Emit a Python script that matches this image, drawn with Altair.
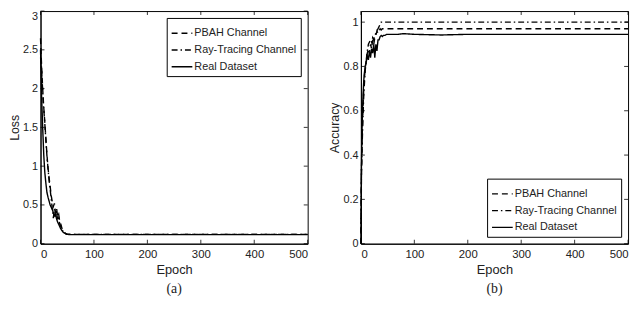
import altair as alt
import pandas as pd

epochs = [0, 1, 2, 3, 4, 5, 6, 8, 10, 12, 14, 16, 18, 20, 22, 24, 26, 28, 30, 32,
          34, 36, 38, 40, 42, 45, 48, 50, 55, 60, 70, 80, 100, 150, 200, 300, 400, 500]

series = ["PBAH Channel", "Ray-Tracing Channel", "Real Dataset"]

loss_pbah = [2.65, 2.45, 2.30, 2.15, 2.00, 1.88, 1.76, 1.57, 1.36, 1.15, 0.98, 0.85, 0.74, 0.62,
             0.54, 0.48, 0.52, 0.40, 0.46, 0.35, 0.38, 0.28, 0.25, 0.20, 0.17, 0.145, 0.128, 0.122,
             0.12, 0.12, 0.12, 0.12, 0.12, 0.12, 0.12, 0.12, 0.12, 0.12]
loss_rt = [2.40, 2.35, 2.25, 2.10, 1.98, 1.85, 1.74, 1.55, 1.33, 1.13, 0.97, 0.82, 0.70, 0.58,
           0.45, 0.33, 0.45, 0.35, 0.42, 0.30, 0.33, 0.25, 0.22, 0.19, 0.16, 0.14, 0.125, 0.12,
           0.12, 0.12, 0.12, 0.12, 0.12, 0.12, 0.12, 0.12, 0.12, 0.12]
loss_real = [2.50, 2.20, 1.90, 1.70, 1.50, 1.33, 1.15, 0.92, 0.78, 0.66, 0.60, 0.55, 0.50, 0.47,
             0.44, 0.40, 0.36, 0.38, 0.32, 0.28, 0.25, 0.22, 0.19, 0.17, 0.15, 0.135, 0.125, 0.12,
             0.118, 0.117, 0.117, 0.117, 0.117, 0.117, 0.117, 0.117, 0.117, 0.117]

acc_pbah = [0.00, 0.30, 0.45, 0.55, 0.62, 0.68, 0.73, 0.79, 0.83, 0.86, 0.88, 0.86, 0.90, 0.88,
            0.92, 0.90, 0.93, 0.94, 0.96, 0.95, 0.96, 0.97, 0.965, 0.97, 0.97, 0.97, 0.97, 0.97,
            0.97, 0.97, 0.97, 0.97, 0.97, 0.97, 0.97, 0.97, 0.97, 0.97]
acc_rt = [0.05, 0.33, 0.42, 0.50, 0.58, 0.65, 0.70, 0.78, 0.83, 0.87, 0.90, 0.91, 0.92, 0.91,
          0.93, 0.92, 0.94, 0.95, 0.96, 0.97, 0.98, 0.99, 1.00, 1.00, 1.00, 1.00, 1.00, 1.00,
          1.00, 1.00, 1.00, 1.00, 1.00, 1.00, 1.00, 1.00, 1.00, 1.00]
acc_real = [0.00, 0.35, 0.50, 0.60, 0.67, 0.72, 0.76, 0.80, 0.82, 0.85, 0.83, 0.87, 0.84, 0.88,
            0.86, 0.90, 0.84, 0.90, 0.87, 0.92, 0.92, 0.935, 0.94, 0.935, 0.94, 0.94, 0.945, 0.945,
            0.945, 0.945, 0.945, 0.948, 0.945, 0.942, 0.945, 0.945, 0.945, 0.945]

x_ticks = [0, 100, 200, 300, 400, 500]
loss_ticks = [0, 0.5, 1, 1.5, 2, 2.5, 3]
acc_ticks = [0, 0.2, 0.4, 0.6, 0.8, 1]

W, H = 271, 236
FONT = "Liberation Sans"


def long(vals_list):
    rows = []
    for name, vals in zip(series, vals_list):
        for i, (e, v) in enumerate(zip(epochs, vals)):
            rows.append({"epoch": e, "value": v, "series": name, "order": i})
    return pd.DataFrame(rows)


def panel(df, yticks, ymax, ytitle, legend_orient, label):
    xs = alt.Scale(domain=[0, 500], nice=False)
    ys = alt.Scale(domain=[0, ymax], nice=False)
    xaxis = alt.Axis(values=x_ticks, ticks=False, grid=False, labelPadding=5,
                     labelExpr="toString(datum.value)",
                     domainColor="black", labelFont=FONT, labelFontSize=11.5,
                     labelColor="#222", titleFont=FONT, titleFontSize=13,
                     titleFontWeight="normal", titleColor="#222", titlePadding=4)
    yaxis = alt.Axis(values=yticks, ticks=False, grid=False, labelPadding=3,
                     labelExpr="toString(datum.value)",
                     labelBaseline={"condition": {"test": f"datum.value >= {ymax}", "value": "top"},
                                    "value": "middle"},
                     domainColor="black", labelFont=FONT, labelFontSize=11,
                     labelColor="#222", titleFont=FONT, titleFontSize=12.5,
                     titleFontWeight="normal", titleColor="#222", titlePadding=1)
    dash = alt.Scale(domain=series, range=[[6, 4], [6, 3, 1.5, 3], [1, 0]])
    lines = alt.Chart(df).mark_line(color="black", strokeWidth=1.4).encode(
        x=alt.X("epoch:Q", scale=xs, title="Epoch", axis=xaxis),
        y=alt.Y("value:Q", scale=ys, title=ytitle, axis=yaxis),
        strokeDash=alt.StrokeDash("series:N", scale=dash,
                                  legend=alt.Legend(title=None, orient=legend_orient, offset=7,
                                                    strokeColor="black", fillColor="white",
                                                    padding=4, symbolType="stroke",
                                                    symbolStrokeColor="black",
                                                    symbolStrokeWidth=1.4, symbolSize=440,
                                                    labelFont=FONT, labelFontSize=11,
                                                    labelColor="#222", labelOffset=1,
                                                    rowPadding=-4)),
        order="order:Q",
    )
    xt = pd.DataFrame({"t": x_ticks})
    yt = pd.DataFrame({"t": yticks})
    bot = alt.Chart(xt).mark_rule(color="black", strokeWidth=0.8).encode(
        x=alt.X("t:Q", scale=xs, title="Epoch", axis=xaxis), y=alt.value(H), y2=alt.value(H - 4))
    top = alt.Chart(xt).mark_rule(color="black", strokeWidth=0.8).encode(
        x=alt.X("t:Q", scale=xs, title="Epoch", axis=xaxis), y=alt.value(0), y2=alt.value(4))
    lft = alt.Chart(yt).mark_rule(color="black", strokeWidth=0.8).encode(
        y=alt.Y("t:Q", scale=ys, title=ytitle, axis=yaxis), x=alt.value(0), x2=alt.value(4))
    rgt = alt.Chart(yt).mark_rule(color="black", strokeWidth=0.8).encode(
        y=alt.Y("t:Q", scale=ys, title=ytitle, axis=yaxis), x=alt.value(W), x2=alt.value(W - 4))
    return alt.layer(lines, bot, top, lft, rgt).properties(
        width=W, height=H,
        title=alt.TitleParams(label, orient="bottom", font="Liberation Serif",
                              fontSize=14, fontWeight="normal", color="#222", offset=6),
    )


left = panel(long([loss_pbah, loss_rt, loss_real]), loss_ticks, 3, "Loss", "top-right", "(a)")
right = panel(long([acc_pbah, acc_rt, acc_real]), acc_ticks, 1.05, "Accuracy", "bottom-right", "(b)")

chart = alt.hconcat(left, right, spacing=17).resolve_scale(strokeDash="independent").properties(
    padding={"left": 0, "top": 0, "right": 0, "bottom": 0}
).configure_view(stroke="black", strokeWidth=1)

chart.save("out.html", embed_options={"renderer": "svg", "actions": False})
